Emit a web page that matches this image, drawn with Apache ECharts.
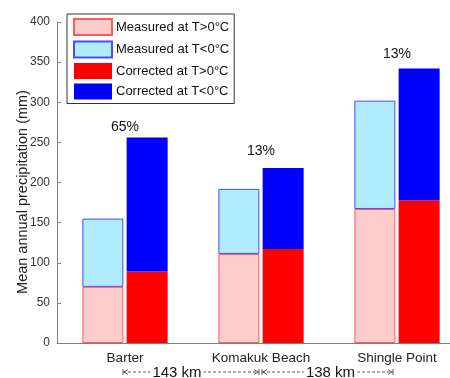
<!DOCTYPE html>
<html>
<head>
<meta charset="utf-8">
<script src="https://cdn.jsdelivr.net/npm/echarts@6/dist/echarts.min.js"></script>
<style>
html,body{margin:0;padding:0;background:#fff;}
#c{width:450px;height:378px;}
</style>
</head>
<body>
<div id="c"></div>
<script>
var categories = ['Barter', 'Komakuk Beach', 'Shingle Point'];
var measuredWarm = [70, 111, 167];
var measuredCold = [85, 81, 135];
var correctedWarm = [89, 117, 178];
var correctedCold = [167, 101, 164];
var pctLabels = ['65%', '13%', '13%'];
var pctLabelY = [269, 239, 360];
var distances = ['143 km', '138 km'];
var yTicks = [0, 50, 100, 150, 200, 250, 300, 350, 400];
var yTitle = 'Mean annual precipitation (mm)';

var FONT = '"Liberation Sans", Arial, Helvetica, sans-serif';
var chart = echarts.init(document.getElementById('c'), null, {renderer: 'canvas'});

var option = {
  animation: false,
  textStyle: {fontFamily: FONT},
  grid: {left: 57, top: 22, height: 321, width: 408, containLabel: false, outerBoundsMode: 'none'},
  legend: {
    orient: 'vertical',
    left: 67, top: 14,
    data: ['Measured at T>0°C', 'Measured at T<0°C', 'Corrected at T>0°C', 'Corrected at T<0°C'],
    icon: 'rect',
    itemWidth: 38, itemHeight: 16, itemGap: 4.5,
    padding: [4, 5, 4, 6],
    borderColor: '#333', borderWidth: 1,
    backgroundColor: '#fff',
    selectedMode: false,
    textStyle: {fontFamily: FONT, fontSize: 13, color: '#111', padding: [0,0,0,-1]}
  },
  xAxis: {
    type: 'category',
    data: categories,
    axisLine: {lineStyle: {color: '#808080', width: 1}},
    axisTick: {inside: true, alignWithLabel: true, length: 3, lineStyle: {color: '#808080'}},
    axisLabel: {fontFamily: FONT, fontSize: 13.5, color: '#222', margin: 8}
  },
  yAxis: {
    type: 'value',
    min: 0, max: 400, interval: 50,
    axisLine: {show: true, lineStyle: {color: '#808080', width: 1}},
    axisTick: {show: true, inside: true, length: 4, lineStyle: {color: '#808080'}},
    axisLabel: {fontFamily: FONT, fontSize: 12, color: '#333', margin: 7,
      formatter: function (v) { return yTicks.indexOf(v) >= 0 ? String(v) : ''; }},
    splitLine: {show: false}
  },
  series: [
    {name: 'Measured at T>0°C', type: 'bar', stack: 'm', data: measuredWarm,
     barWidth: 41, barGap: '8%',
     itemStyle: {color: '#ffcccc', borderColor: '#ff5a5a', borderWidth: 1}},
    {name: 'Measured at T<0°C', type: 'bar', stack: 'm', data: measuredCold,
     barWidth: 41, barGap: '8%',
     itemStyle: {color: '#b0ecfd', borderColor: '#4a4aff', borderWidth: 1}},
    {name: 'Corrected at T>0°C', type: 'bar', stack: 'c', data: correctedWarm,
     barWidth: 41, barGap: '8%',
     itemStyle: {color: '#ff0000', borderWidth: 0}},
    {name: 'Corrected at T<0°C', type: 'bar', stack: 'c', data: correctedCold,
     barWidth: 41, barGap: '8%',
     itemStyle: {color: '#0000ff', borderWidth: 0}},
    {name: 'pct', type: 'scatter', data: pctLabelY.map(function (v, i) { return [i, v]; }),
     symbolSize: 0, silent: true, itemStyle: {opacity: 1},
     label: {show: true, position: 'inside', fontFamily: FONT, fontSize: 14, color: '#111', opacity: 1,
       formatter: function (p) { return pctLabels[p.dataIndex]; }}}
  ]
};
chart.setOption(option);

var graphics = [];
// y-axis title
graphics.push({type: 'text', x: 23, y: 192, rotation: Math.PI / 2,
  style: {text: yTitle, fontFamily: FONT, fontSize: 14.5, fill: '#222',
    align: 'center', verticalAlign: 'middle'}});

// distance annotations between stations
var y = 372;
var stroke = {stroke: '#333', lineWidth: 0.8};
for (var i = 0; i < distances.length; i++) {
  var a = chart.convertToPixel({xAxisIndex: 0}, i) - 2;
  var b = chart.convertToPixel({xAxisIndex: 0}, i + 1) - 2;
  if (i > 0) a += 3;
  if (i === distances.length - 1) b -= 2;
  var mid = (a + b) / 2 - (i === 0 ? 14 : -3);
  graphics.push({type: 'line', shape: {x1: a, y1: y, x2: b, y2: y},
    style: {stroke: '#333', lineWidth: 0.8, lineDash: [3, 2]}});
  graphics.push({type: 'line', shape: {x1: a, y1: y - 3, x2: a, y2: y + 3}, style: stroke});
  graphics.push({type: 'polyline', shape: {points: [[a + 5, y - 2.5], [a + 1, y], [a + 5, y + 2.5]]}, style: stroke});
  graphics.push({type: 'line', shape: {x1: b, y1: y - 3, x2: b, y2: y + 3}, style: stroke});
  graphics.push({type: 'polyline', shape: {points: [[b - 5, y - 2.5], [b - 1, y], [b - 5, y + 2.5]]}, style: stroke});
  graphics.push({type: 'text', x: mid, y: y + 1,
    style: {text: distances[i], fontFamily: FONT, fontSize: 15, fill: '#111',
      align: 'center', verticalAlign: 'middle', backgroundColor: '#fff', padding: [0, 2]}});
}
chart.setOption({graphic: graphics});
</script>
</body>
</html>
